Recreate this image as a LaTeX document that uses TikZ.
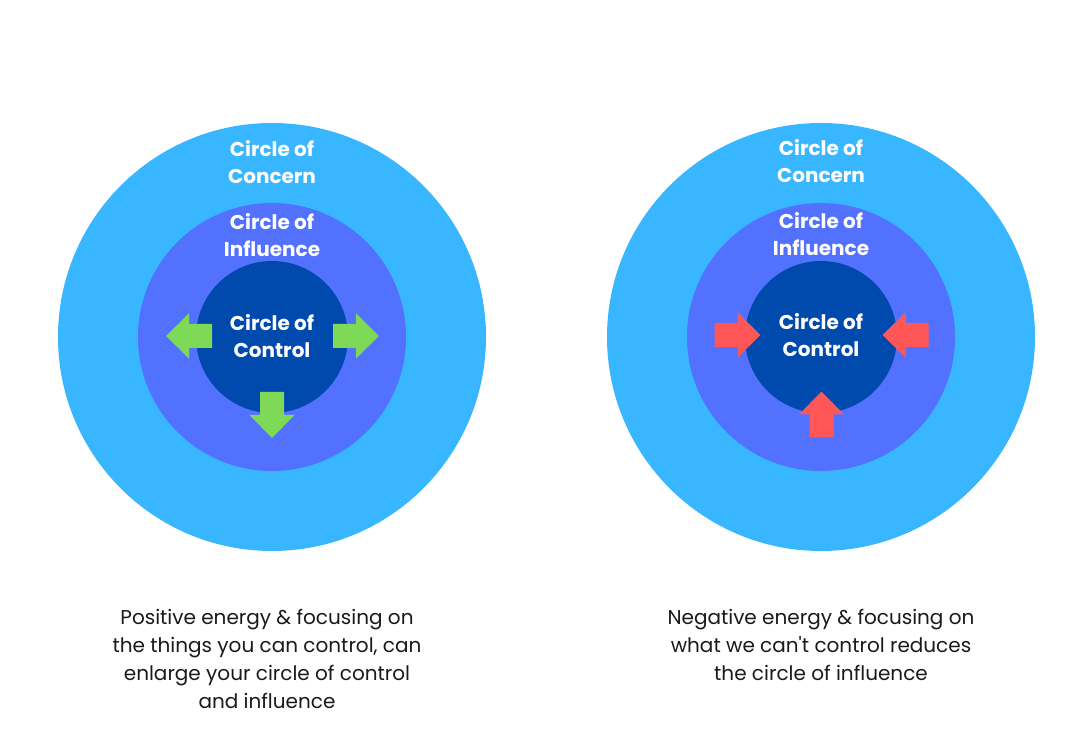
\documentclass[tikz,border=0pt]{standalone}
\usepackage{fontspec}
\setmainfont{Poppins}
\usepackage{xcolor}
\usetikzlibrary{positioning}

\definecolor{concernblue}{HTML}{38B6FF}
\definecolor{influenceblue}{HTML}{5271FF}
\definecolor{controlblue}{HTML}{004AAD}
\definecolor{growgreen}{HTML}{7ED957}
\definecolor{shrinkred}{HTML}{FF5757}
\definecolor{captiontext}{HTML}{1A1A1A}

\tikzset{
  ring/.style={circle, inner sep=0pt, draw=none},
  ringtext/.style={text=white, align=center, font=\fontsize{20}{27}\selectfont\bfseries},
  captiontext/.style={text=captiontext, align=center, font=\fontsize{20}{28}\selectfont},
  blockarrow/.pic={
    \fill[#1] (-23,-12) -- (0,-12) -- (0,-22.5) -- (23,0) -- (0,22.5) -- (0,12) -- (-23,12) -- cycle;
  }
}

\begin{document}
\begin{tikzpicture}[x=1pt, y=1pt]
\useasboundingbox (0,0) rectangle (1080,734);
\fill[white] (0,0) rectangle (1080,734);

% left: positive energy
\node[ring, fill=concernblue, minimum size=428pt] (lconcern) at (272,397) {};
\node[ring, fill=influenceblue, minimum size=268pt] (linfluence) at (lconcern.center) {};
\node[ring, fill=controlblue, minimum size=152pt] (lcontrol) at (lconcern.center) {};
\node[ringtext] (lconcernlabel) at (272,572) {Circle of\\Concern};
\node[ringtext] (linfluencelabel) at (272,499) {Circle of\\Influence};
\node[ringtext] (lcontrollabel) at (272,398) {Circle of\\Control};
\pic[rotate=180] at (189,398) {blockarrow=growgreen};
\pic at (356,398) {blockarrow=growgreen};
\pic[rotate=-90] at (272,319) {blockarrow=growgreen};
\node[captiontext] (lcaption) at (267,75.5) {Positive energy \& focusing on\\the things you can control, can\\enlarge your circle of control\\and influence};

% right: negative energy
\node[ring, fill=concernblue, minimum size=428pt] (rconcern) at (821,397) {};
\node[ring, fill=influenceblue, minimum size=268pt] (rinfluence) at (rconcern.center) {};
\node[ring, fill=controlblue, minimum size=152pt] (rcontrol) at (rconcern.center) {};
\node[ringtext] (rconcernlabel) at (821,573) {Circle of\\Concern};
\node[ringtext] (rinfluencelabel) at (821,500) {Circle of\\Influence};
\node[ringtext] (rcontrollabel) at (821,399) {Circle of\\Control};
\pic at (737.5,399) {blockarrow=shrinkred};
\pic[rotate=180] at (905.5,399) {blockarrow=shrinkred};
\pic[rotate=90] at (821.5,319.5) {blockarrow=shrinkred};
\node[captiontext] (rcaption) at (821,89.5) {Negative energy \& focusing on\\what we can\textquotesingle t control reduces\\the circle of influence};
\end{tikzpicture}
\end{document}
